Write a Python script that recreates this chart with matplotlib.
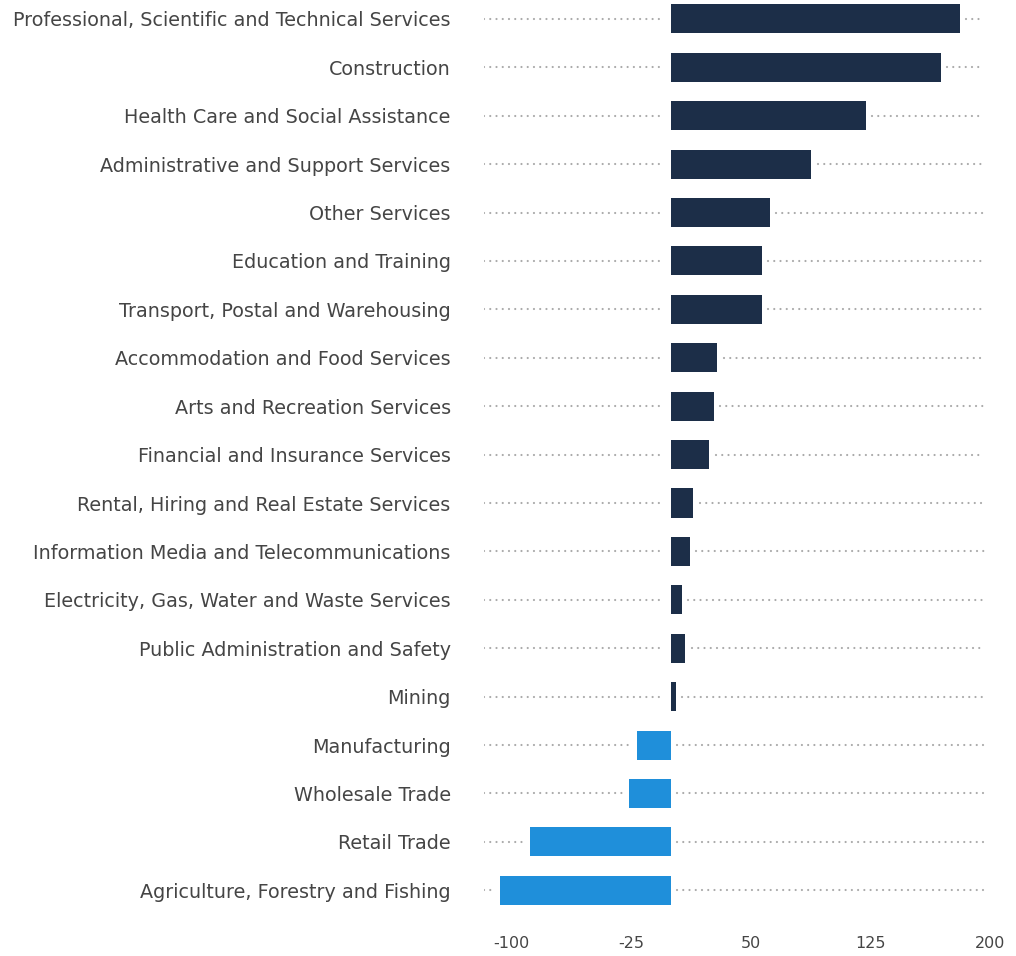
import matplotlib.pyplot as plt

# изменение занятости по отраслям
otrasli = [
    'Professional, Scientific and Technical Services',
    'Construction',
    'Health Care and Social Assistance',
    'Administrative and Support Services',
    'Other Services',
    'Education and Training',
    'Transport, Postal and Warehousing',
    'Accommodation and Food Services',
    'Arts and Recreation Services',
    'Financial and Insurance Services',
    'Rental, Hiring and Real Estate Services',
    'Information Media and Telecommunications',
    'Electricity, Gas, Water and Waste Services',
    'Public Administration and Safety',
    'Mining',
    'Manufacturing',
    'Wholesale Trade',
    'Retail Trade',
    'Agriculture, Forestry and Fishing',
]
znachenie = [181, 169, 122, 88, 62, 57, 57, 29, 27, 24, 14, 12, 7, 9, 3,
             -21, -26, -88, -107]
x_ticks = [-100, -25, 50, 125, 200]

fig = plt.figure(figsize=(10.16, 9.56), dpi=100)
ax = fig.add_axes([484 / 1016, 41 / 956, 508 / 1016, 915 / 956])

x_min, x_max, x_line_end = -117, 201, 196
zazor = 4  # промежуток между точками и столбцом
tochki = dict(color='#aaaaaa', lw=1.6, ls=(0, (0.01, 2.8)),
              dash_capstyle='round', zorder=1)

for i, v in enumerate(znachenie):
    left = min(0, v) - zazor
    right = max(0, v) + zazor
    ax.plot([x_min, left], [i, i], **tochki)
    ax.plot([right, x_line_end], [i, i], **tochki)

cveta = ['#1c2e48' if v > 0 else '#1f8fda' for v in znachenie]
ax.barh(range(len(otrasli)), znachenie, height=0.6, color=cveta, zorder=2)

ax.set_xlim(x_min, x_max)
ax.set_ylim(18.51, -0.39)
ax.set_yticks(range(len(otrasli)))
ax.set_yticklabels(otrasli, fontsize=13.8, color='#454545', family='DejaVu Sans')
ax.set_xticks(x_ticks)
ax.set_xticklabels([str(t) for t in x_ticks], fontsize=11.5, color='#454545',
                   family='DejaVu Sans')
ax.tick_params(axis='y', length=0, pad=24)
ax.tick_params(axis='x', length=0, pad=15)
for s in ax.spines.values():
    s.set_visible(False)

plt.savefig('out.png', dpi=100)
